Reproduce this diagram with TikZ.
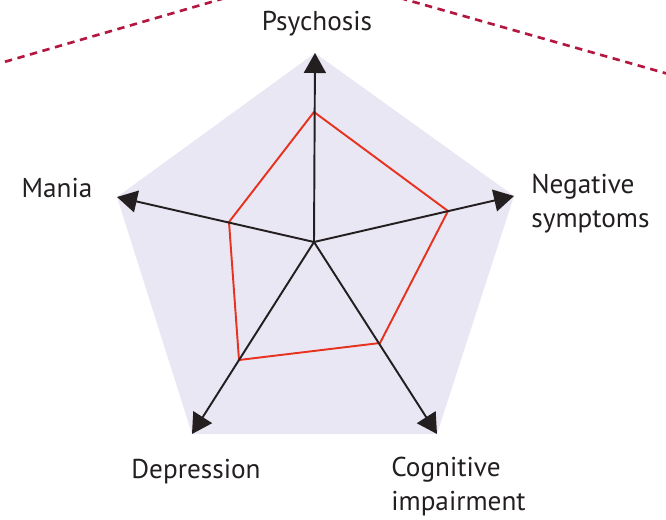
\documentclass[tikz,border=0pt]{standalone}
\usepackage{fontspec}
\setmainfont{PT Sans}
\usetikzlibrary{arrows.meta}
\definecolor{Lavender}{HTML}{EAE7F4}
\definecolor{TraitRed}{HTML}{E6321E}
\definecolor{DashRed}{HTML}{B3163F}
\definecolor{Ink}{HTML}{231F20}

\begin{document}
\begin{tikzpicture}[x=0.02cm, y=-0.02cm,
    axis/.style={draw=Ink, line width=1.1pt, -{Triangle[length=0.4cm, width=0.44cm]}},
    lbl/.style={font=\fontsize{15.5}{19}\selectfont, text=Ink, inner sep=0pt}]
    \useasboundingbox (0,0) rectangle (666,520);

    % Centre and outer corners (pixel grid, y pointing down)
    \coordinate (c) at (314,242);
    \coordinate (psy) at (315,53);
    \coordinate (neg) at (514,196);
    \coordinate (cog) at (437,434);
    \coordinate (dep) at (192,434);
    \coordinate (man) at (117,197);

    % Shaded pentagon behind the axes
    \fill[Lavender] (psy) -- (neg) -- (cog) -- (dep) -- (man) -- cycle;

    % Dashed frame lines at the top, cut at the page edge
    \begin{scope}
        \clip (0,0) rectangle (666,520);
        \draw[DashRed, line width=1.5pt, dash pattern=on 4.2pt off 3.2pt]
            (-20,69) -- (232,-4);
        \draw[DashRed, line width=1.5pt, dash pattern=on 4.2pt off 3.2pt]
            (400,-2) -- (686,79);
    \end{scope}

    % Profile (red polygon)
    \coordinate (rpsy) at (314,112);
    \coordinate (rneg) at (448,211);
    \coordinate (rcog) at (380,343);
    \coordinate (rdep) at (239,360);
    \coordinate (rman) at (229,222);
    \draw[TraitRed, line width=1.1pt, line join=miter]
        (rpsy) -- (rneg) -- (rcog) -- (rdep) -- (rman) -- cycle;

    % Axes
    \draw[axis] (c) -- (psy);
    \draw[axis] (c) -- (neg);
    \draw[axis] (c) -- (cog);
    \draw[axis] (c) -- (dep);
    \draw[axis] (c) -- (man);

    % Labels
    \node[lbl, anchor=base] (psyL) at (317,31) {Psychosis};
    \node[lbl, anchor=base] (manL) at (57,198) {Mania};
    \node[lbl, anchor=base] (depL) at (196,478) {Depression};
    \node[lbl, anchor=north west, align=left] (negL) at (531,174) {Negative\\symptoms};
    \node[lbl, anchor=north west, align=left] (cogL) at (391,457) {Cognitive\\impairment};
\end{tikzpicture}
\end{document}
